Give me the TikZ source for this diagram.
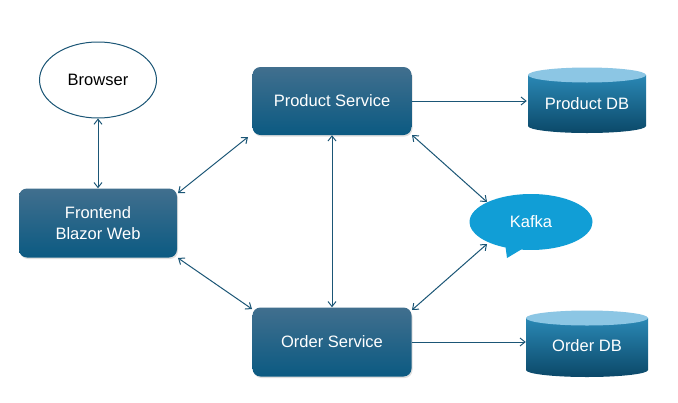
\documentclass[tikz,border=0pt]{standalone}
\usepackage{fontspec}
\setmainfont{Liberation Sans}
\usetikzlibrary{arrows.meta,shapes.geometric,shapes.callouts,shadows}
\definecolor{boxtop}{HTML}{416F8E}
\definecolor{boxbot}{HTML}{0B5A82}
\definecolor{cyltop}{HTML}{8CC6E4}
\definecolor{cylmid}{HTML}{2A88B5}
\definecolor{cylbot}{HTML}{0B4868}
\definecolor{kafka}{HTML}{119ED6}
\definecolor{conn}{HTML}{1B5676}
\begin{document}
\begin{tikzpicture}[x=1pt,y=-1pt,
  lbl/.style={font=\fontsize{16.5}{21}\selectfont},
  svc/.style={rectangle,rounded corners=8pt,minimum width=159pt,minimum height=68pt,
    top color=boxtop,bottom color=boxbot,text=white,lbl,align=center,
    drop shadow={shadow xshift=1pt,shadow yshift=-1.5pt,opacity=0.25}},
  dbnode/.style={rectangle,minimum width=120pt,minimum height=66pt,text=white,lbl},
  link/.style={draw=conn,line width=1pt,{Straight Barb[length=5pt,width=8pt]}-{Straight Barb[length=5pt,width=8pt]}},
  onelink/.style={draw=conn,line width=1pt,-{Straight Barb[length=5pt,width=8pt]}}]
\useasboundingbox (0,0) rectangle (678,402);
\fill[white] (0,0) rectangle (678,402);

\node[ellipse,draw=conn,line width=1pt,minimum width=117pt,minimum height=76pt,lbl] (browser) at (98,80) {Browser};
\node[svc] (product) at (332,101) {Product Service};
\node[svc,minimum width=158pt,minimum height=69pt] (frontend) at (98,223) {Frontend\\Blazor Web};
\node[svc,minimum height=69pt] (order) at (332,342) {Order Service};

% cylinders
\newcommand{\mycyl}[4]{% center x, top y, bottom y, half width
  \shade[top color=cylmid,bottom color=cylbot] (#1-#4,#2) -- (#1-#4,#3) arc[start angle=180,end angle=0,x radius=#4,y radius=7] -- (#1+#4,#2) -- cycle;
  \fill[cyltop] (#1,#2) ellipse[x radius=#4,y radius=7.5];
}
\mycyl{587}{75}{126}{59}
\mycyl{587}{318}{370}{61}
\node[dbnode] (pdb) at (587,104) {Product DB};
\node[dbnode,minimum width=122pt] (odb) at (587,346) {Order DB};

\node[ellipse callout,fill=kafka,minimum width=123pt,minimum height=56pt,text=white,
  lbl,callout absolute pointer={(507,258)}] (kafka) at (531,222) {Kafka};

\coordinate (pse) at (412,135);
\coordinate (psw) at (248,137);
\coordinate (fne) at (178,193);
\coordinate (fse) at (178,258);
\coordinate (osw) at (252,309);
\coordinate (one) at (412,310);
\coordinate (k1) at (487,202);
\coordinate (k2) at (487,244);

\draw[link] (browser.south) -- (frontend.north);
\draw[link] (fne) -- (psw);
\draw[link] (fse) -- (osw);
\draw[link] (product.south) -- (order.north);
\draw[link] (pse) -- (k1);
\draw[link] (one) -- (k2);
\draw[onelink] (product.east) -- (pdb.west |- product.east);
\draw[onelink] (order.east) -- (odb.west |- order.east);
\end{tikzpicture}
\end{document}
